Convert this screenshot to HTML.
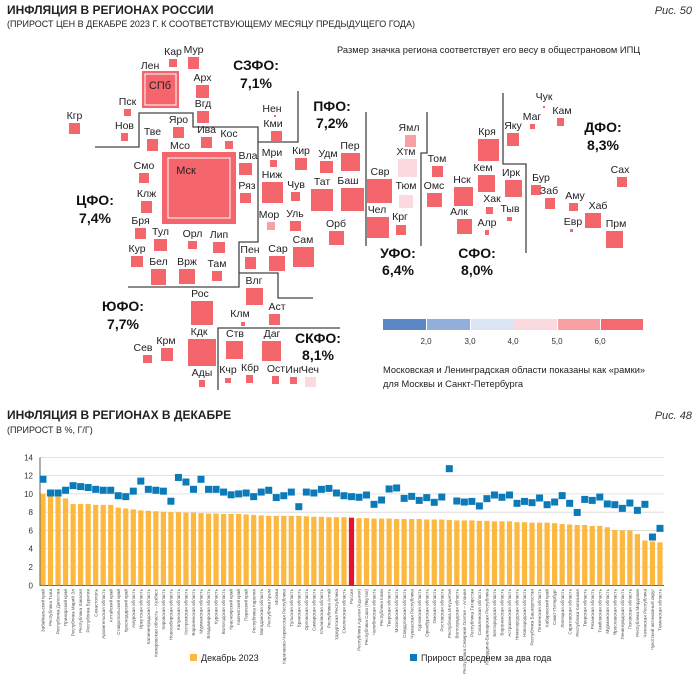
<!DOCTYPE html>
<html><head><meta charset="utf-8"><style>
body{margin:0;background:#fff;}
svg{display:block;font-family:"Liberation Sans","DejaVu Sans",sans-serif;}
.l{font-size:10.5px;fill:#222;text-anchor:middle;}
.d{font-size:14px;font-weight:bold;fill:#111;text-anchor:middle;}
.b{stroke:#444;stroke-width:1.3;fill:none;}
.x{font-size:4.6px;fill:#555;text-anchor:end;}
</style></head><body>
<svg id="g" width="700" height="700" viewBox="0 0 700 700" xmlns="http://www.w3.org/2000/svg">
<text x="7" y="14" font-size="12" font-weight="bold" fill="#222">ИНФЛЯЦИЯ В РЕГИОНАХ РОССИИ</text>
<text x="7" y="27" font-size="9" fill="#222">(ПРИРОСТ ЦЕН В ДЕКАБРЕ 2023 Г. К СООТВЕТСТВУЮЩЕМУ МЕСЯЦУ ПРЕДЫДУЩЕГО ГОДА)</text>
<text x="692" y="14" font-size="11" font-style="italic" fill="#333" text-anchor="end">Рис. 50</text>
<text x="337" y="53" font-size="9.3" fill="#222">Размер значка региона соответствует его весу в общестрановом ИПЦ</text>

<polyline class="b" points="95,147 139,147 139,113 193,113 193,127 258,127 258,242 239,242 239,287 128,287"/>
<polyline class="b" points="258,142 298,142 298,91"/>
<polyline class="b" points="239,273 278,273 278,298 313,298"/>
<polyline class="b" points="340,328 218,328 218,390"/>
<line class="b" x1="366" y1="112" x2="366" y2="246"/>
<polyline class="b" points="427,112 427,153 421,153 421,246"/>
<polyline class="b" points="503,93 503,164 526,164 526,253"/>

<rect x="142" y="71" width="37" height="37" fill="#f4666c"/>
<rect x="145" y="74" width="31" height="31" fill="none" stroke="#fff" stroke-width="1"/>
<rect x="162" y="152" width="74" height="72" fill="#f4666c"/>
<rect x="168" y="158" width="62" height="60" fill="none" stroke="#fff" stroke-width="1"/>
<text x="150" y="69" class="l">Лен</text>
<text x="160" y="89" class="l" style="font-size:11px">СПб</text>
<text x="180" y="149" class="l">Мсо</text>
<text x="186" y="174" class="l" style="font-size:11px">Мск</text>

<g id="sq"></g>
<g id="lb"></g>

<text x="256" y="70" class="d">СЗФО:</text><text x="256" y="88" class="d">7,1%</text>
<text x="332" y="111" class="d">ПФО:</text><text x="332" y="128" class="d">7,2%</text>
<text x="398" y="258" class="d">УФО:</text><text x="398" y="275" class="d">6,4%</text>
<text x="477" y="258" class="d">СФО:</text><text x="477" y="275" class="d">8,0%</text>
<text x="603" y="132" class="d">ДФО:</text><text x="603" y="150" class="d">8,3%</text>
<text x="95" y="205" class="d">ЦФО:</text><text x="95" y="223" class="d">7,4%</text>
<text x="123" y="311" class="d">ЮФО:</text><text x="123" y="329" class="d">7,7%</text>
<text x="318" y="343" class="d">СКФО:</text><text x="318" y="360" class="d">8,1%</text>

<rect x="383" y="319" width="43" height="11" fill="#5b87c5"/>
<rect x="427" y="319" width="43" height="11" fill="#92aedb"/>
<rect x="471" y="319" width="43" height="11" fill="#dce5f3"/>
<rect x="514" y="319" width="43" height="11" fill="#fbdadf"/>
<rect x="558" y="319" width="42" height="11" fill="#f9a0a5"/>
<rect x="601" y="319" width="42" height="11" fill="#f56a70"/>
<g font-size="8" fill="#333" text-anchor="middle"><text x="426" y="344">2,0</text><text x="470" y="344">3,0</text><text x="513" y="344">4,0</text><text x="557" y="344">5,0</text><text x="600" y="344">6,0</text></g>
<text x="383" y="373" font-size="9.3" fill="#222">Московская и Ленинградская области показаны как «рамки»</text>
<text x="383" y="387" font-size="9.3" fill="#222">для Москвы и Санкт-Петербурга</text>

<text x="7" y="419" font-size="12" font-weight="bold" fill="#222">ИНФЛЯЦИЯ В РЕГИОНАХ В ДЕКАБРЕ</text>
<text x="7" y="433" font-size="9" fill="#222">(ПРИРОСТ В %, Г/Г)</text>
<text x="692" y="419" font-size="11" font-style="italic" fill="#333" text-anchor="end">Рис. 48</text>
<g id="ch"></g>
<rect x="190" y="654" width="7" height="7" fill="#fdb840"/>
<text x="201" y="661" font-size="9" fill="#222">Декабрь 2023</text>
<rect x="410" y="654" width="7" height="7" fill="#0a7ab8"/>
<text x="421" y="661" font-size="9" fill="#222">Прирост в среднем за два года</text>
</svg>
<script>
var NS="http://www.w3.org/2000/svg";
function el(p,t,a,txt){var e=document.createElementNS(NS,t);for(var k in a)e.setAttribute(k,a[k]);if(txt!=null)e.textContent=txt;p.appendChild(e);return e;}
var sq=document.getElementById("sq"),lb=document.getElementById("lb");
var R=[["Кар",169,59,177,67],["Мур",188,57,199,69],["Арх",196,85,209,98],["Вгд",197,111,209,123],["Пск",124,109,131,116],["Нов",121,133,128,141],["Кгр",69,123,80,134],
["Яро",173,127,184,138],["Тве",147,139,158,151],["Ива",201,137,212,148],["Кос",225,141,233,149],["Вла",239,163,252,175],["Ряз",240,193,251,203],["Смо",139,173,149,183],["Клж",141,201,152,213],["Бря",135,228,146,239],["Тул",154,239,167,251],["Орл",188,241,197,249],["Лип",213,242,225,253],["Кур",131,256,143,267],["Бел",151,269,166,285],["Врж",179,269,195,284],["Там",212,271,222,281],
["Кми",271,131,282,141],["Нен",274,115,276,117],["Мри",270,160,277,167],["Кир",295,158,307,170],["Удм",320,161,333,173],["Пер",341,153,360,171],["Ниж",262,182,283,203],["Чув",291,192,300,201],["Тат",311,189,333,211],["Баш",341,188,364,211],["Мор",267,222,275,230,"#f9a0a5"],["Уль",290,221,301,231],["Орб",329,231,344,245],["Сар",269,256,285,271],["Сам",293,247,314,267],["Пен",245,257,256,269],
["Влг",246,288,263,305],["Рос",191,301,213,325],["Клм",241,322,245,326],["Аст",269,314,280,325],["Кдк",188,339,216,366],["Крм",161,348,173,361],["Сев",143,355,152,363],["Ады",199,380,205,387],
["Ств",226,341,243,359],["Даг",262,341,281,361],["Кчр",225,378,231,383],["Кбр",246,375,253,383],["Ост",272,376,279,384],["Инг",290,377,297,384],["Чеч",305,377,316,387,"#fbdadf"],
["Свр",367,179,392,203],["Чел",367,217,389,238],["Ямл",405,135,416,147,"#f9a0a5"],["Хтм",398,159,417,177,"#fbdadf"],["Тюм",399,195,413,208,"#fbdadf"],["Крг",396,225,406,235],
["Том",432,166,443,177],["Омс",427,193,442,207],["Нск",454,187,473,206],["Алк",457,219,472,234],["Алр",485,230,489,235],["Кря",478,139,499,161],["Кем",478,175,495,192],["Хак",486,207,493,214],["Тыв",507,217,512,221],
["Ирк",505,180,522,197],["Яку",507,133,519,146],["Маг",530,124,535,129],["Кам",557,118,564,126],["Чук",543,106,545,108],["Бур",531,185,541,195],["Заб",545,198,555,209],["Аму",569,203,578,211],["Евр",570,229,573,232],["Хаб",585,213,601,228],["Прм",606,231,623,248],["Сах",617,177,627,187]];
var LP={"Тыв":[510,212],"Хак":[492,202],"Евр":[573,225],"Алр":[487,226],"Тюм":[406,189],"Крг":[400,220],"Свр":[380,175],"Чел":[377,213],"Прм":[616,227],"Хаб":[598,209],"Аму":[575,199],"Заб":[549,194],"Бур":[541,181],"Ирк":[511,176],"Маг":[532,120],"Кам":[562,114],"Чук":[544,100],"Яку":[513,129],"Сах":[620,173],"Кря":[487,135],"Кем":[483,171],"Нск":[462,183],"Алк":[459,215],"Омс":[434,189],"Том":[437,162],"Хтм":[406,155],"Ямл":[409,131],
"Даг":[272,337],"Ств":[235,337],"Кчр":[228,373],"Кбр":[250,371],"Ост":[276,372],"Инг":[294,373],"Чеч":[310,373],"Ады":[202,376],"Кдк":[199,335],"Крм":[166,344],"Сев":[143,351],"Рос":[200,297],"Клм":[240,317],"Аст":[277,310],"Влг":[254,284],"Пен":[250,253],"Сар":[278,252],"Сам":[303,243],"Орб":[336,227],"Уль":[295,217],"Мор":[269,218],"Баш":[348,184],"Тат":[322,185],"Чув":[296,188],"Ниж":[272,178],"Пер":[350,149],"Удм":[328,157],"Кир":[301,154],"Мри":[272,156],"Кми":[273,127],"Нен":[272,112],"Вла":[248,159],"Ряз":[247,189]};
R.forEach(function(r){el(sq,"rect",{x:r[1],y:r[2],width:r[3]-r[1],height:r[4]-r[2],fill:r[5]||"#f4666c"});
var p=LP[r[0]]||[(r[1]+r[3])/2,r[2]-4];el(lb,"text",{x:p[0],y:p[1],"class":"l"},r[0]);});
var ch=document.getElementById("ch");
function Y(v){return 585.3-v*9.14;}
for(var v=0;v<=14;v+=2){el(ch,"line",{x1:40,x2:664,y1:Y(v),y2:Y(v),stroke:"#d8d8d8","stroke-width":0.8});el(ch,"text",{x:33,y:Y(v)+3,"font-size":8,fill:"#333","text-anchor":"end"},v);}
el(ch,"line",{x1:40,x2:40,y1:Y(14),y2:586,stroke:"#333","stroke-width":0.8});
el(ch,"line",{x1:40,x2:664,y1:585.5,y2:585.5,stroke:"#333","stroke-width":0.8});
var B=[10.0,9.8,9.7,9.5,8.9,8.9,8.9,8.8,8.8,8.8,8.5,8.4,8.3,8.2,8.15,8.1,8.05,8.0,8.0,7.95,7.95,7.9,7.85,7.85,7.8,7.8,7.8,7.75,7.7,7.65,7.6,7.6,7.6,7.6,7.6,7.55,7.5,7.5,7.45,7.45,7.45,7.4,
7.35,7.35,7.3,7.3,7.3,7.25,7.25,7.25,7.25,7.2,7.2,7.2,7.15,7.1,7.1,7.1,7.05,7.05,7.0,7.0,7.0,6.9,6.9,6.85,6.85,6.85,6.8,6.7,6.65,6.6,6.6,6.5,6.5,6.35,6.05,6.0,6.0,5.6,4.9,4.8,4.7];
var S=[11.6,10.1,10.1,10.4,10.9,10.8,10.7,10.5,10.4,10.4,9.8,9.7,10.3,11.4,10.5,10.4,10.3,9.2,11.8,11.3,10.5,11.6,10.5,10.5,10.2,9.9,10.0,10.1,9.7,10.2,10.4,9.6,9.8,10.2,8.6,10.2,10.1,10.5,10.6,10.1,9.8,9.7,
9.63,9.88,8.86,9.33,10.54,10.65,9.51,9.73,9.29,9.59,9.08,9.66,12.76,9.22,9.11,9.18,8.68,9.48,9.88,9.63,9.88,8.97,9.18,9.04,9.55,8.82,9.11,9.81,8.97,7.97,9.40,9.29,9.66,8.90,8.82,8.42,9.0,8.2,8.86,5.28,6.23];
var N=["Забайкальский край","Республика Тыва","Республика Дагестан","Приморский край","Республика Марий Эл","Республика Хакасия","Республика Бурятия","Севастополь","Архангельская область","Алтайский край","Ставропольский край","Краснодарский край","Амурская область","Иркутская область","Калининградская область","Кемеровская область – Кузбасс","Кировская область","Новосибирская область","Калужская область","Костромская область","Воронежская область","Мурманская область","Владимирская область","Курская область","Вологодская область","Красноярский край","Камчатский край","Пермский край","Республика Карелия","Магаданская область","Республика Крым","Москва","Карачаево-Черкесская Республика","Тульская область","Брянская область","Орловская область","Самарская область","Ульяновская область","Республика Алтай","Удмуртская Республика","Смоленская область","Россия",
"Республика Адыгея (Адыгея)","Республика Саха (Якутия)","Челябинская область","Республика Коми","Тверская область","Московская область","Свердловская область","Чувашская Республика","Курганская область","Оренбургская область","Омская область","Ростовская область","Республика Ингушетия","Волгоградская область","Республика Северная Осетия – Алания","Республика Татарстан","Сахалинская область","Кабардино-Балкарская Республика","Белгородская область","Воронежская область","Астраханская область","Нижегородская область","Новгородская область","Республика Башкортостан","Пензенская область","Хабаровский край","Санкт-Петербург","Липецкая область","Саратовская область","Республика Калмыкия","Тверская область","Рязанская область","Тамбовская область","Мурманская область","Ярославская область","Ленинградская область","Псковская область","Республика Мордовия","Чеченская Республика","Чукотский автономный округ","Тюменская область"];
for(var i=0;i<B.length;i++){var cx=43+i*7.524;
el(ch,"rect",{x:cx-2.6,y:Y(B[i]),width:5.2,height:585.3-Y(B[i]),fill:i==41?"#e8112d":"#fdb840"});
el(ch,"rect",{x:cx-3.5,y:Y(S[i])-3.5,width:7,height:7,fill:"#0a7ab8"});
el(ch,"text",{"class":"x",transform:"translate("+(cx+1.6)+",589) rotate(-90)"},N[i]||"");}
</script>
</body></html>
